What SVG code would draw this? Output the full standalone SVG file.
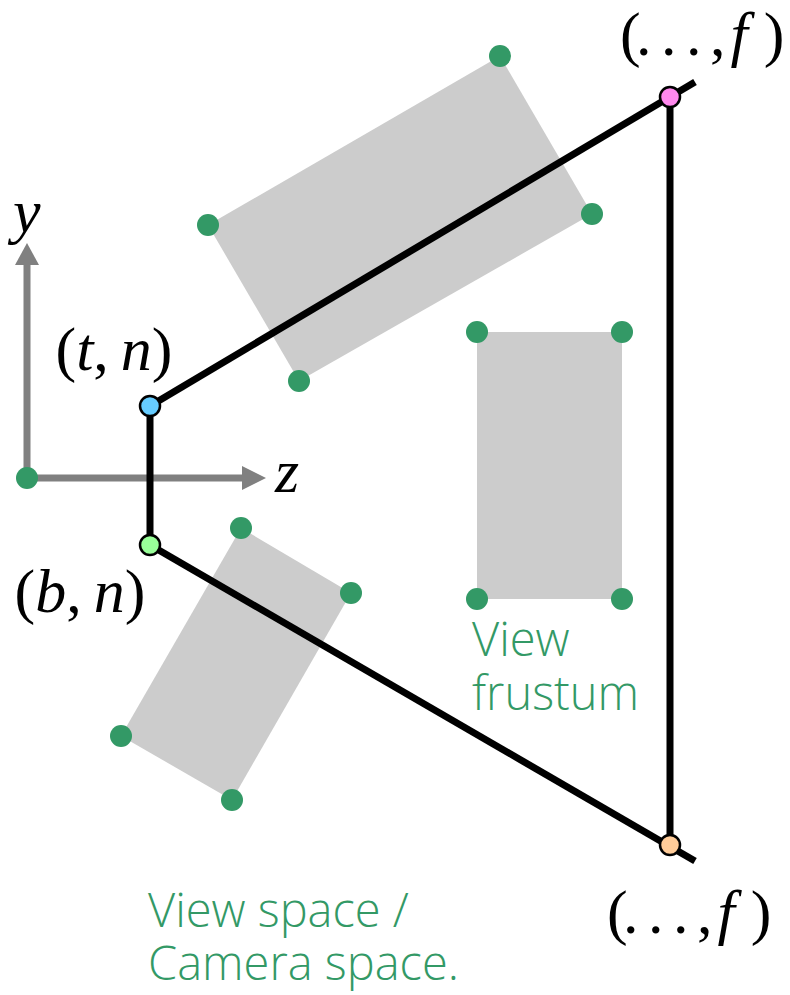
<svg xmlns="http://www.w3.org/2000/svg" width="790" height="995" viewBox="0 0 790 995">
<defs>
<style>
.obj{fill:#cccccc;stroke:none}
.vtx{fill:#339966}
.axis{stroke:#808080;stroke-width:7;fill:none}
.ahead{fill:#808080}
.edge{stroke:#000;stroke-width:7;fill:none}
.corner{stroke:#000;stroke-width:2.5}
.math{font-family:"Liberation Serif","DejaVu Serif",serif;font-size:62px;fill:#000}
.it{font-style:italic}
.note{font-family:"Open Sans","Noto Sans",sans-serif;font-weight:300;font-size:47px;fill:#339966}
</style>
</defs>
<g id="object-top">
<polygon class="obj" points="500,56 592,214 299,381 208,225"/>
<circle class="vtx" cx="500" cy="56" r="11"/><circle class="vtx" cx="592" cy="214" r="11"/><circle class="vtx" cx="299" cy="381" r="11"/><circle class="vtx" cx="208" cy="225" r="11"/>
</g>
<g id="object-middle">
<polygon class="obj" points="477,332 622,332 622,599 477,599"/>
<circle class="vtx" cx="477" cy="332" r="11"/><circle class="vtx" cx="622" cy="332" r="11"/><circle class="vtx" cx="477" cy="599" r="11"/><circle class="vtx" cx="622" cy="599" r="11"/>
</g>
<g id="object-bottom">
<polygon class="obj" points="241,528 351,593 232,800 121,736"/>
<circle class="vtx" cx="241" cy="528" r="11"/><circle class="vtx" cx="351" cy="593" r="11"/><circle class="vtx" cx="232" cy="800" r="11"/><circle class="vtx" cx="121" cy="736" r="11"/>
</g>
<g id="axes">
<line class="axis" x1="27" y1="478" x2="27" y2="262"/>
<polygon class="ahead" points="27,243 15,265 39,265"/>
<line class="axis" x1="27" y1="478" x2="245" y2="478"/>
<polygon class="ahead" points="266,478 242,466 242,490"/>
<circle class="vtx" cx="27" cy="478" r="11"/>
<text class="math it" x="13" y="232">y</text>
<text class="math it" x="275" y="492">z</text>
</g>
<g id="connectors">
<line class="edge" x1="150" y1="406" x2="150" y2="545"/>
<line class="edge" x1="150" y1="406" x2="695" y2="82"/>
<line class="edge" x1="150" y1="545" x2="695" y2="861"/>
<line class="edge" x1="670" y1="97" x2="670" y2="845"/>
</g>
<g id="near-top">
<circle class="corner" cx="150" cy="406" r="10" fill="#66ccff"/>
<text class="math" x="114" y="370" text-anchor="middle">(<tspan class="it">t</tspan>,<tspan dx="12" class="it">n</tspan>)</text>
</g>
<g id="near-bottom">
<circle class="corner" cx="150" cy="545" r="10" fill="#99ff99"/>
<text class="math" x="80" y="612" text-anchor="middle">(<tspan class="it">b</tspan>,<tspan dx="12" class="it">n</tspan>)</text>
</g>
<g id="far-top">
<circle class="corner" cx="670" cy="97" r="10" fill="#ff88ee"/>
<text class="math" x="620" y="55" dx="0 -4.6 9.5 9.5 8.5">(...,<tspan class="it" dx="5">f</tspan><tspan dx="16">)</tspan></text>
</g>
<g id="far-bottom">
<circle class="corner" cx="670" cy="845" r="10" fill="#ffcc99"/>
<text class="math" x="607" y="933" dx="0 -4.6 9.5 9.5 8.5">(...,<tspan class="it" dx="5">f</tspan><tspan dx="16">)</tspan></text>
</g>
<g id="labels">
<text class="note"><tspan x="472" y="656">View</tspan><tspan x="472" y="710">frustum</tspan></text>
<text class="note"><tspan x="148" y="927">View space /</tspan><tspan x="148" y="980">Camera space.</tspan></text>
</g>
</svg>
